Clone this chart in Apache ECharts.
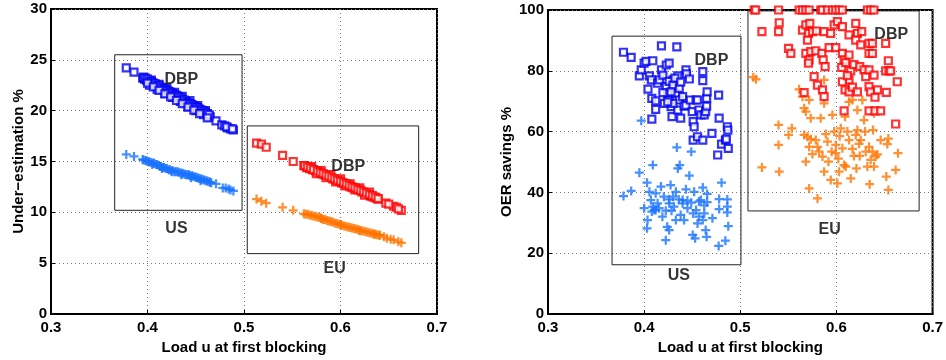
<!DOCTYPE html>
<html>
<head>
<meta charset="utf-8">
<script src="https://cdn.jsdelivr.net/npm/echarts@6/dist/echarts.min.js"></script>
<style>
  html, body { margin: 0; padding: 0; background: #fff; }
  #main { width: 946px; height: 360px; }
</style>
</head>
<body>
<div id="main"></div>
<script>
// x ticks shared by both panels
var xTicks = [0.3, 0.4, 0.5, 0.6, 0.7]

// left panel: under-estimation %, US / EU, DBP (squares) and normal (+)
var leftUsDbp = [
  [0.378,24.2],[0.386,23.8],[0.395,23.2],[0.397,23.1],[0.399,23.0],[0.401,22.9],[0.403,22.8],
  [0.405,22.7],[0.407,22.6],[0.409,22.5],[0.411,22.4],[0.413,22.3],[0.415,22.2],[0.417,22.1],
  [0.419,22.0],[0.421,21.9],[0.423,21.8],[0.425,21.7],[0.427,21.6],[0.429,21.5],[0.431,21.4],
  [0.433,21.3],[0.435,21.2],[0.437,21.0],[0.439,20.9],[0.441,20.8],[0.443,20.7],[0.445,20.6],
  [0.447,20.5],[0.449,20.4],[0.451,20.2],[0.453,20.1],[0.455,20.0],[0.457,19.9],[0.459,19.8],
  [0.461,19.7],[0.463,19.5],[0.465,19.4],[0.471,19.0],[0.477,18.6],[0.480,18.5],[0.483,18.3],
  [0.486,18.2],[0.489,18.1],
  [0.402,22.5],[0.410,22.1],[0.418,21.7],[0.426,21.3],[0.434,20.9],[0.442,20.4],[0.450,20.0],
  [0.458,19.6],[0.404,23.0],[0.412,22.6],[0.420,22.2],[0.428,21.8],[0.436,21.4],[0.444,21.0],
  [0.452,20.5],[0.460,20.0],
  [0.396,23.3],[0.398,23.2],[0.400,23.1],[0.402,22.9],[0.404,22.85],[0.406,22.7],[0.408,22.65],
  [0.410,22.5],[0.412,22.45],[0.414,22.3],[0.416,22.2],[0.418,22.1],[0.420,22.0],[0.422,21.9],
  [0.424,21.8],[0.426,21.65],[0.428,21.55],[0.430,21.5],[0.432,21.35],[0.434,21.25],[0.436,21.1],
  [0.438,21.05],[0.440,20.9],[0.442,20.8],[0.444,20.7],[0.446,20.6],[0.448,20.45],[0.450,20.35],
  [0.452,20.3],[0.454,20.15],[0.456,20.05],[0.458,19.95],[0.460,19.85],[0.462,19.7],[0.464,19.6],
  [0.400,22.7],[0.406,22.35],[0.412,22.0],[0.418,21.65],[0.424,21.35],[0.430,21.0],[0.436,20.7],
  [0.442,20.35],[0.448,20.05],[0.454,19.7],[0.462,19.3],[0.482,18.4],[0.488,18.2]
]
var leftUsBase = [
  [0.378,15.7],[0.386,15.5],[0.395,15.2],[0.398,15.1],[0.401,15.0],[0.404,14.9],[0.407,14.8],
  [0.410,14.7],[0.413,14.5],[0.416,14.4],[0.419,14.3],[0.422,14.2],[0.425,14.1],[0.428,14.0],
  [0.431,14.0],[0.434,13.9],[0.437,13.8],[0.440,13.7],[0.443,13.7],[0.446,13.6],[0.449,13.5],
  [0.452,13.4],[0.455,13.3],[0.458,13.2],[0.461,13.1],[0.464,13.0],[0.466,12.9],[0.471,12.8],
  [0.478,12.4],[0.481,12.4],[0.484,12.3],[0.486,12.2],[0.489,12.1],
  [0.405,14.7],[0.415,14.3],[0.425,14.0],[0.435,13.7],[0.445,13.4],[0.455,13.1],
  [0.396,15.15],[0.399,15.05],[0.402,14.95],[0.406,14.85],[0.409,14.7],[0.412,14.6],[0.414,14.5],
  [0.417,14.4],[0.420,14.3],[0.423,14.2],[0.426,14.1],[0.429,14.0],[0.432,13.95],[0.436,13.85],
  [0.439,13.75],[0.442,13.7],[0.444,13.6],[0.447,13.55],[0.450,13.45],[0.453,13.35],[0.456,13.25],
  [0.459,13.15],[0.462,13.05],[0.465,12.95]
]
var leftEuDbp = [
  [0.513,16.8],[0.518,16.7],[0.523,16.4],[0.540,15.6],[0.551,15.0],[0.562,14.6],[0.565,14.4],
  [0.568,14.3],[0.571,14.2],[0.574,14.1],[0.577,14.0],[0.580,13.8],[0.583,13.7],[0.586,13.6],
  [0.589,13.5],[0.592,13.3],[0.595,13.2],[0.598,13.1],[0.601,12.9],[0.604,12.8],[0.607,12.7],
  [0.610,12.5],[0.613,12.4],[0.616,12.3],[0.619,12.2],[0.622,12.0],[0.625,11.9],[0.628,11.8],
  [0.631,11.6],[0.634,11.5],[0.637,11.4],[0.639,11.3],[0.647,10.9],[0.655,10.6],[0.658,10.5],
  [0.663,10.2],
  [0.570,14.5],[0.580,14.1],[0.590,13.7],[0.600,13.3],[0.610,12.8],[0.620,12.4],[0.630,12.0],
  [0.575,13.8],[0.585,13.4],[0.595,13.0],[0.605,12.6],[0.615,12.2],[0.625,11.7],
  [0.563,14.6],[0.566,14.45],[0.569,14.35],[0.572,14.2],[0.576,14.05],[0.579,13.9],[0.582,13.8],
  [0.585,13.65],[0.588,13.55],[0.591,13.4],[0.594,13.3],[0.597,13.15],[0.600,13.05],[0.603,12.9],
  [0.606,12.8],[0.609,12.65],[0.612,12.5],[0.615,12.4],[0.618,12.25],[0.621,12.15],[0.624,12.0],
  [0.627,11.9],[0.630,11.75],[0.633,11.65],[0.636,11.5],[0.639,11.35],[0.650,10.8],[0.660,10.35]
]
var leftEuBase = [
  [0.513,11.3],[0.518,11.1],[0.523,10.9],[0.540,10.5],[0.551,10.2],[0.562,9.85],[0.566,9.8],
  [0.570,9.7],[0.574,9.6],[0.578,9.5],[0.582,9.3],[0.586,9.2],[0.590,9.1],[0.594,8.95],
  [0.598,8.85],[0.602,8.7],[0.606,8.6],[0.610,8.5],[0.614,8.4],[0.618,8.3],[0.622,8.2],
  [0.626,8.1],[0.630,8.0],[0.634,7.9],[0.638,7.8],[0.641,7.75],[0.648,7.45],[0.655,7.3],
  [0.663,7.0],[0.580,9.45],[0.600,8.8],[0.620,8.2],[0.635,7.85],
  [0.564,9.8],[0.568,9.75],[0.572,9.65],[0.576,9.55],[0.580,9.4],[0.584,9.3],[0.588,9.15],
  [0.592,9.05],[0.596,8.9],[0.600,8.8],[0.604,8.65],[0.608,8.55],[0.612,8.45],[0.616,8.35],
  [0.620,8.25],[0.624,8.15],[0.628,8.05],[0.632,7.95],[0.636,7.85],[0.640,7.75],[0.645,7.6],
  [0.652,7.35],[0.660,7.1]
]
var leftBoxes = [[[0.366,25.5],[0.498,10.2]], [[0.5034,18.5],[0.681,5.94]]]
var leftTexts = [[0.435,23.1,'DBP'],[0.43,8.4,'US'],[0.608,14.5,'DBP'],[0.594,4.5,'EU']]

// right panel: OER savings %
var rightUsDbp = [
  [0.3785,86.1],[0.3865,84.4],[0.395,78.3],[0.397,80.3],[0.400,82.5],[0.402,83.1],[0.409,83.3],
  [0.418,88.2],[0.434,87.9],[0.4055,78.3],[0.4075,77.0],[0.404,74.0],[0.408,70.9],[0.408,64.1],
  [0.412,67.3],[0.412,70.1],[0.414,75.9],[0.416,77.0],[0.418,80.3],[0.4195,78.6],[0.423,81.9],
  [0.426,82.5],[0.423,74.8],[0.4245,72.6],[0.426,70.4],[0.428,68.2],[0.429,64.9],[0.430,77.0],
  [0.431,74.8],[0.433,72.6],[0.435,78.3],[0.435,67.1],[0.4365,70.4],[0.438,64.4],[0.440,71.5],
  [0.4415,68.4],[0.4435,80.3],[0.444,79.0],[0.447,77.3],[0.4435,68.6],[0.448,70.4],[0.450,66.6],
  [0.451,63.3],[0.452,61.6],[0.454,70.4],[0.4555,70.4],[0.451,57.2],[0.4555,58.3],[0.457,67.1],
  [0.459,65.5],[0.461,79.7],[0.461,76.8],[0.461,57.2],[0.4625,65.5],[0.464,66.6],[0.465,68.4],
  [0.465,70.9],[0.4655,73.1],[0.4705,59.4],[0.4775,72.0],[0.478,64.4],[0.4765,52.3],[0.4805,55.9],
  [0.4845,57.2],[0.4865,61.6],[0.487,60.5],[0.4875,54.5],[0.4855,57.5],
  [0.426,76.5],[0.430,75.3],[0.432,77.6],[0.4365,74.2],[0.428,73.1],[0.438,76.3],[0.4195,72.8],
  [0.421,69.3],[0.430,69.3],[0.4245,69.8]
]
var rightUsBase = [
  [0.3785,38.8],[0.3865,40.5],[0.397,63.6],[0.395,46.5],[0.400,34.8],[0.403,43.2],[0.4035,30.9],
  [0.403,28.2],[0.4055,40.2],[0.409,49.0],[0.409,35.3],[0.4105,34.2],[0.412,39.7],[0.414,36.4],
  [0.4155,34.8],[0.4175,41.9],[0.419,32.0],[0.4205,38.6],[0.4225,24.3],[0.424,28.7],[0.426,36.4],
  [0.426,27.6],[0.4275,42.4],[0.4285,34.0],[0.430,38.6],[0.431,35.3],[0.433,40.2],[0.434,54.8],
  [0.435,47.9],[0.436,37.7],[0.437,49.0],[0.438,32.6],[0.440,36.4],[0.4415,30.9],[0.4435,41.0],
  [0.445,34.8],[0.447,45.5],[0.449,53.4],[0.449,36.6],[0.4505,26.0],[0.451,33.1],[0.452,40.2],
  [0.453,24.9],[0.454,34.2],[0.4555,29.8],[0.457,32.0],[0.459,37.5],[0.461,41.6],[0.461,30.9],
  [0.4625,33.1],[0.464,27.6],[0.465,25.4],[0.4655,39.5],[0.4655,36.8],[0.471,31.5],[0.478,37.8],
  [0.478,34.5],[0.4775,22.4],[0.4805,43.2],[0.4845,24.1],[0.4865,37.7],[0.4865,35.3],[0.4865,33.4],
  [0.4875,28.9],[0.4225,34.0],[0.412,34.2],[0.408,33.7],[0.407,37.5],[0.433,30.9],[0.440,37.5],
  [0.426,37.7],[0.457,37.0],[0.4625,35.7],[0.445,37.3]
]
var rightEuDbp = [
  [0.5145,100],[0.516,100],[0.5398,100],[0.5612,100],[0.5647,100],[0.5682,100],[0.5716,100],
  [0.5837,100],[0.5855,100],[0.5907,100],[0.5958,100],[0.5993,100],[0.6028,100],[0.6062,100],
  [0.6322,100],[0.6356,100],[0.639,100],
  [0.5225,92.9],[0.5398,92.9],[0.5405,95.8],[0.5502,87.4],[0.5526,85.7],[0.5647,93.4],[0.5682,95.1],
  [0.5723,95.6],[0.5709,92.3],[0.5699,90.1],[0.5751,92.9],[0.5792,93.1],[0.5682,85.7],[0.5716,83.6],
  [0.5709,82.5],[0.5733,86.3],[0.5785,86.6],[0.5848,85.7],[0.5862,83.6],[0.5882,81.4],[0.5872,92.9],
  [0.594,92.3],[0.5924,87.6],[0.5993,87.6],[0.5976,95.1],[0.601,96.2],[0.6062,94.5],[0.5768,78.1],
  [0.5803,75.3],[0.5855,73.7],[0.5872,71.5],[0.5664,72.8],[0.6062,85.7],[0.608,83.6],[0.6055,81.1],
  [0.6097,82.7],[0.6131,85.2],[0.6149,80.0],[0.6131,76.9],[0.6062,76.4],[0.609,73.7],[0.6131,73.1],
  [0.6166,74.6],[0.6218,73.1],[0.6183,82.0],[0.6242,81.4],[0.6131,91.8],[0.6201,95.6],[0.6218,92.3],
  [0.6263,92.9],[0.6201,90.1],[0.6253,88.5],[0.6287,80.3],[0.6305,78.1],[0.6339,80.3],[0.6339,85.7],
  [0.6374,85.7],[0.6339,89.0],[0.6374,89.0],[0.6339,74.8],[0.6356,73.1],[0.6391,78.6],[0.6401,71.3],
  [0.6426,73.7],[0.6512,89.0],[0.654,83.3],[0.6512,80.0],[0.6547,80.0],[0.6564,80.0],[0.6519,72.9],
  [0.6633,76.4],[0.6616,62.5],[0.608,66.8],[0.6339,66.8],[0.6401,66.8],[0.646,66.8],[0.6114,78.4]
]
var rightEuBase = [
  [0.5135,77.9],[0.5163,77.2],[0.5225,48.2],[0.5398,62.2],[0.5398,55.6],[0.5405,46.8],[0.5502,58.9],
  [0.5536,61.1],[0.5612,73.9],[0.5647,71.5],[0.5664,67.7],[0.5682,66.6],[0.5716,70.4],[0.5733,64.4],
  [0.5682,50.1],[0.5664,58.9],[0.5699,58.3],[0.5716,55.0],[0.5733,57.5],[0.5716,41.3],[0.5803,38.0],
  [0.5785,57.2],[0.5803,55.0],[0.5837,64.4],[0.5855,51.8],[0.5872,69.3],[0.5872,46.8],[0.5872,77.0],
  [0.5889,59.2],[0.5907,56.7],[0.5917,50.1],[0.5941,44.1],[0.5958,65.5],[0.5976,60.0],[0.5993,55.6],
  [0.5993,52.9],[0.601,43.0],[0.602,51.1],[0.6034,58.5],[0.6045,61.1],[0.6062,54.5],[0.608,49.0],
  [0.609,64.9],[0.6114,60.0],[0.6131,69.8],[0.6131,57.2],[0.6149,44.6],[0.6166,54.3],[0.6183,52.0],
  [0.6201,58.9],[0.6208,47.9],[0.6218,60.5],[0.6235,56.0],[0.6242,52.0],[0.627,70.4],[0.6287,63.8],
  [0.6298,60.0],[0.6305,53.4],[0.6322,48.5],[0.6339,55.0],[0.6346,42.7],[0.6356,50.7],[0.6374,53.4],
  [0.6381,60.5],[0.6391,48.5],[0.6408,51.8],[0.6426,52.5],[0.646,57.2],[0.6519,45.2],[0.6529,55.9],
  [0.654,57.7],[0.654,40.8],[0.6616,47.4],[0.664,52.9],[0.6166,70.4],[0.6218,67.1],[0.6391,66.0],
  [0.575,52.6],[0.582,53.4],[0.595,53.4],[0.6027,46.8],[0.6097,48.5],[0.6253,57.2]
]
var rightBoxes = [[[0.3666,91.4],[0.5007,16.2]], [[0.508,99.7],[0.686,33.9]]]
var rightTexts = [[0.470,83.3,'DBP'],[0.436,12.6,'US'],[0.657,92.0,'DBP'],[0.593,27.9,'EU']]

var FONT = 'Liberation Sans'
var plusPath = 'path://M3,0H5V3H8V5H5V8H3V5H0V3H3Z'

function sq(color, data, idx){
    return {
        type: 'scatter', xAxisIndex: idx, yAxisIndex: idx, data: data,
        symbol: 'rect', symbolSize: 7, clip: false,
        itemStyle: { color: '#fff', borderColor: color, borderWidth: 2.2 },
        silent: true
    }
}
function plus(color, data, idx){
    return {
        type: 'scatter', xAxisIndex: idx, yAxisIndex: idx, data: data,
        symbol: plusPath, symbolSize: 9,
        itemStyle: { color: color },
        silent: true
    }
}
function notes(texts, boxes, idx){
    return {
        type: 'scatter', xAxisIndex: idx, yAxisIndex: idx, data: texts,
        symbolSize: 0, silent: true, z: 5,
        label: {
            show: true, position: 'inside', formatter: function(p){ return p.value[2] },
            color: '#000', textBorderWidth: 0, fontFamily: FONT, fontWeight: 'bold', fontSize: 16
        },
        markArea: {
            silent: true,
            itemStyle: { color: 'rgba(0,0,0,0)', borderColor: '#222', borderWidth: 1 },
            data: boxes.map(function(b){ return [{coord: b[0]}, {coord: b[1]}] })
        }
    }
}
function xAx(idx){
    return {
        type: 'value', gridIndex: idx, min: xTicks[0], max: xTicks[xTicks.length-1], interval: 0.1,
        name: 'Load u at first blocking', nameLocation: 'middle', nameGap: 22,
        nameTextStyle: { fontFamily: FONT, fontWeight: 'bold', fontSize: 15, color: '#000' },
        axisLine: { lineStyle: { color: '#000', width: 2 } },
        axisTick: { inside: true, length: 4, lineStyle: { color: '#000' } },
        axisLabel: { fontFamily: FONT, fontWeight: 'bold', fontSize: 15, color: '#000', margin: 6,
                     formatter: function(v){ return v.toFixed(1) } },
        splitLine: { show: true, lineStyle: { color: '#777', type: [1, 3] } }
    }
}
function yAx(idx, name, max, step, gap){
    return {
        type: 'value', gridIndex: idx, min: 0, max: max, interval: step,
        name: name, nameLocation: 'middle', nameGap: gap,
        nameTextStyle: { fontFamily: FONT, fontWeight: 'bold', fontSize: 15, color: '#000' },
        axisLine: { show: true, lineStyle: { color: '#000', width: 2 } },
        axisTick: { show: true, inside: true, length: 4, lineStyle: { color: '#000' } },
        axisLabel: { fontFamily: FONT, fontWeight: 'bold', fontSize: 15, color: '#000', margin: 4 },
        splitLine: { show: true, lineStyle: { color: '#777', type: [1, 3] } }
    }
}

var chart = echarts.init(document.getElementById('main'))
chart.setOption({
    animation: false,
    backgroundColor: '#fff',
    grid: [
        { left: 51, right: 509, top: 9, bottom: 46, show: true, borderColor: '#000', borderWidth: 2 },
        { left: 548, right: 12, top: 10, bottom: 46, show: true, borderColor: '#000', borderWidth: 2 }
    ],
    xAxis: [xAx(0), xAx(1)],
    yAxis: [yAx(0, 'Under\u2212estimation %', 30, 5, 24), yAx(1, 'OER savings %', 100, 20, 34)],
    series: [
        notes(leftTexts, leftBoxes, 0),
        plus('#1a73ff', leftUsBase, 0),
        sq('#0000f0', leftUsDbp, 0),
        plus('#ff7400', leftEuBase, 0),
        sq('#ff0000', leftEuDbp, 0),
        notes(rightTexts, rightBoxes, 1),
        plus('#1a73ff', rightUsBase, 1),
        sq('#0000f0', rightUsDbp, 1),
        plus('#ff7400', rightEuBase, 1),
        sq('#ff0000', rightEuDbp, 1)
    ]
})
</script>
</body>
</html>
